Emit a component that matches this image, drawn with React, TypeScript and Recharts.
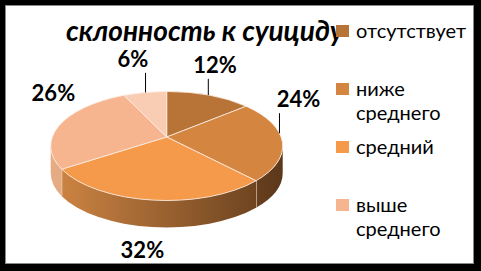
import React from 'react';
import { PieChart, Pie, Cell, Legend } from 'recharts';

// values (the legend in the source is cut after 4 rows)
const categories = ['отсутствует', 'ниже среднего', 'средний', 'выше среднего', 'высокий'];
const shares = [12, 24, 32, 26, 6];
const title = 'склонность к суициду';

const COLORS = ['#b87436', '#d48540', '#f49a4a', '#f6b58e', '#f9cdb4'];
// side wall shading, left -> right
const SIDE = [
  ['#a8652f', '#5a3518'],
  ['#c0773a', '#5c381b'],
  ['#d08644', '#623c1c'],
  ['#e6ad84', '#b9825a'],
  ['#eec0a0', '#c09070'],
];
const LABEL_NUDGE = [[-2.5, -6], [-6, -38], [-7, 5], [15, -21], [-8, -8]];
const LEADER = [true, true, false, false, true];
const LEGEND_ROWS = 4;

const FONT = 'Lato, "Noto Sans", sans-serif';
const CX = 161.7;
const CY = 141;
const R = 116;
const RY_RATIO = 0.47;
const DEPTH = 27;
const APEX_SHIFT = 9;

const data = categories.map((name, i) => ({ name, value: shares[i] }));

const pt = (cx: number, cy: number, rx: number, ry: number, deg: number) => {
  const r = (deg * Math.PI) / 180;
  return [cx + rx * Math.cos(r), cy - ry * Math.sin(r)];
};

const Slice3D = (props: any) => {
  const { cx, cy, outerRadius, startAngle, endAngle, fill, index } = props;
  const rx = outerRadius;
  const ry = outerRadius * RY_RATIO;
  const [sx, sy] = pt(cx, cy, rx, ry, startAngle);
  const [ex, ey] = pt(cx, cy, rx, ry, endAngle);
  const span = Math.abs(startAngle - endAngle);
  const large = span > 180 ? 1 : 0;
  const sweep = startAngle > endAngle ? 1 : 0;
  const hiA = Math.max(startAngle, endAngle);
  const loA = Math.min(startAngle, endAngle);

  const sides: React.ReactNode[] = [];
  for (let k = -1; k <= 1; k++) {
    const lo = Math.max(loA, -180 + 360 * k);
    const hi = Math.min(hiA, 360 * k);
    if (hi - lo > 0.01) {
      const [x1, y1] = pt(cx, cy, rx, ry, hi);
      const [x2, y2] = pt(cx, cy, rx, ry, lo);
      const d = `M${x1},${y1} A${rx},${ry} 0 0 1 ${x2},${y2} L${x2},${y2 + DEPTH} A${rx},${ry} 0 0 0 ${x1},${y1 + DEPTH} Z`;
      sides.push(
        <g key={k}>
          <path d={d} fill={`url(#side-${index})`} stroke="none" />
          {lo > -180 + 360 * k + 0.5 && (
            <line x1={x2} y1={y2} x2={x2} y2={y2 + DEPTH} stroke="#f3e3d6" strokeWidth={1} />
          )}
        </g>
      );
    }
  }

  return (
    <g>
      <defs>
        <linearGradient id={`side-${index}`} gradientUnits="userSpaceOnUse" x1={cx - rx} y1={0} x2={cx + rx} y2={0}>
          <stop offset="0%" stopColor={SIDE[index][0]} />
          <stop offset="100%" stopColor={SIDE[index][1]} />
        </linearGradient>
      </defs>
      {sides}
      <path
        d={`M${cx},${cy - APEX_SHIFT} L${sx},${sy} A${rx},${ry} 0 ${large} ${sweep} ${ex},${ey} Z`}
        fill={fill}
        stroke="#fbeee4"
        strokeWidth={0.8}
      />
    </g>
  );
};

const renderLabel = (p: any) => {
  const { cx, cy, midAngle, outerRadius, index, value } = p;
  const rx = outerRadius;
  const ry = outerRadius * RY_RATIO;
  const rad = (midAngle * Math.PI) / 180;
  const lower = Math.sin(rad) < 0;
  const x = cx + (rx + 22) * Math.cos(rad) + LABEL_NUDGE[index][0];
  const y = cy - (ry + 22) * Math.sin(rad) + (lower ? DEPTH : 0) + LABEL_NUDGE[index][1];
  let leader = null;
  if (LEADER[index]) {
    const xe = cx + (rx - 3) * Math.cos(rad);
    const t = (xe - cx) / rx;
    const ye = cy - ry * Math.sqrt(Math.max(0, 1 - t * t));
    leader = <line x1={xe} y1={ye} x2={xe} y2={y + 10} stroke="#000" strokeWidth={1} />;
  }
  return (
    <g key={`lbl-${index}`}>
      {leader}
      <text x={x} y={y + 4} textAnchor="middle" fontFamily={FONT} fontWeight={700} fontSize={22} fill="#000">
        {`${value}%`}
      </text>
    </g>
  );
};

const renderLegend = () => (
  <div style={{ fontFamily: FONT, fontSize: 20, color: '#000' }}>
    {categories.slice(0, LEGEND_ROWS).map((c, i) => (
      <div key={c} style={{ display: 'flex', height: 58, alignItems: 'flex-start' }}>
        <span style={{ width: 13, height: 12, background: COLORS[i], marginTop: 7, flex: 'none' }} />
        <span style={{ marginLeft: 7, width: 120, lineHeight: '24px' }}>{c}</span>
      </div>
    ))}
  </div>
);

export default function App() {
  return (
    <div style={{ position: 'absolute', left: 0, top: 0, width: 481, height: 271, background: '#000' }}>
      <div
        style={{
          position: 'absolute', left: 5, top: 5, width: 467, height: 257,
          background: '#fff', border: '1px solid #8a8a8a',
        }}
      />
      <svg style={{ position: 'absolute', left: 0, top: 0 }} width={481} height={271}>
        <text x={66} y={41} fontFamily={FONT} fontStyle="italic" fontWeight={700} fontSize={28} fill="#000">
          {title}
        </text>
      </svg>
      <div style={{ position: 'absolute', left: 0, top: 0 }}>
        <PieChart width={481} height={271}>
          <Pie
            data={data}
            dataKey="value"
            nameKey="name"
            cx={CX}
            cy={CY}
            outerRadius={R}
            startAngle={90}
            endAngle={-270}
            stroke="none"
            labelLine={false}
            label={renderLabel}
            shape={Slice3D}
            inactiveShape={Slice3D}
            activeShape={Slice3D}
            isAnimationActive={false}
          >
            {data.map((d, i) => (
              <Cell key={d.name} fill={COLORS[i]} />
            ))}
          </Pie>
          <Legend
            content={renderLegend}
            layout="vertical"
            align="right"
            verticalAlign="top"
            wrapperStyle={{ left: 336, top: 18, width: 145 }}
          />
        </PieChart>
      </div>
    </div>
  );
}
